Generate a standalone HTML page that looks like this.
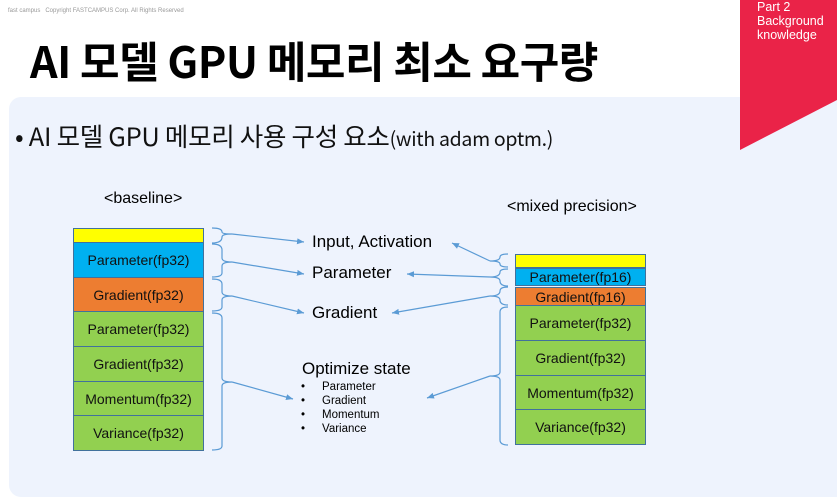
<!DOCTYPE html>
<html><head><meta charset="utf-8"><style>
body{margin:0;width:837px;height:479px;overflow:hidden;background:#fff;font-family:"Liberation Sans","Noto Sans CJK KR",sans-serif;position:relative}
.a{position:absolute;white-space:nowrap}
.k{font-family:"Noto Sans CJK KR",sans-serif;line-height:1}
.box{position:absolute;box-sizing:border-box;border:1px solid #41719c;text-align:center;font-size:14px;color:#111;display:flex;align-items:center;justify-content:center}
.y{background:#ffff00}.b{background:#00b0f0}.o{background:#ed7d31}.g{background:#92d050}
</style></head><body>
<div class="a" style="left:9px;top:97px;width:840px;height:400px;background:#eef3fd;border-radius:12px"></div>
<svg class="a" style="left:0;top:0" width="837" height="479">
<polygon points="740,0 837,0 837,100 740,150" fill="#ea2348"/>
</svg>
<div class="a" style="left:757px;top:0px;color:#fff;font-size:12.5px;line-height:14px">Part 2<br>Background<br>knowledge</div>
<div class="a" style="left:8px;top:8px;font-size:6px;color:#999">fast campus &nbsp; Copyright FASTCAMPUS Corp. All Rights Reserved</div>
<div class="a k" style="left:30px;top:39px;font-size:43px;font-weight:bold;color:#000;letter-spacing:-0.5px">AI 모델 GPU 메모리 최소 요구량</div>
<div class="a k" style="left:15px;top:123px;font-size:25.5px;color:#111;letter-spacing:-0.3px">• AI 모델 GPU 메모리 사용 구성 요소<span style="font-size:19.5px">(with adam optm.)</span></div>
<div class="a" style="left:104px;top:190px;font-size:16px">&lt;baseline&gt;</div>
<div class="a" style="left:507px;top:198px;font-size:16px">&lt;mixed precision&gt;</div>

<div class="box y" style="left:73px;top:228px;width:131px;height:15px"></div>
<div class="box b" style="left:73px;top:242px;width:131px;height:36px">Parameter(fp32)</div>
<div class="box o" style="left:73px;top:277px;width:131px;height:35px">Gradient(fp32)</div>
<div class="box g" style="left:73px;top:311px;width:131px;height:36px">Parameter(fp32)</div>
<div class="box g" style="left:73px;top:346px;width:131px;height:36px">Gradient(fp32)</div>
<div class="box g" style="left:73px;top:381px;width:131px;height:35px">Momentum(fp32)</div>
<div class="box g" style="left:73px;top:415px;width:131px;height:36px">Variance(fp32)</div>

<div class="box y" style="left:515px;top:254px;width:131px;height:14px"></div>
<div class="box b" style="left:515px;top:268px;width:131px;height:18px">Parameter(fp16)</div>
<div class="box o" style="left:515px;top:287px;width:131px;height:19px">Gradient(fp16)</div>
<div class="box g" style="left:515px;top:305px;width:131px;height:36px">Parameter(fp32)</div>
<div class="box g" style="left:515px;top:340px;width:131px;height:36px">Gradient(fp32)</div>
<div class="box g" style="left:515px;top:375px;width:131px;height:35px">Momentum(fp32)</div>
<div class="box g" style="left:515px;top:409px;width:131px;height:36px">Variance(fp32)</div>

<div class="a" style="left:312px;top:232px;font-size:17px">Input, Activation</div>
<div class="a" style="left:312px;top:263px;font-size:17px">Parameter</div>
<div class="a" style="left:312px;top:303px;font-size:17px">Gradient</div>
<div class="a" style="left:302px;top:359px;font-size:17px">Optimize state</div>
<div class="a" style="left:301px;top:380px;font-size:11.5px;line-height:14px">•<br>•<br>•<br>•</div>
<div class="a" style="left:322px;top:380px;font-size:11.5px;line-height:14px">Parameter<br>Gradient<br>Momentum<br>Variance</div>

<svg class="a" style="left:0;top:0" width="837" height="479">
<defs><marker id="m" markerWidth="8" markerHeight="8" refX="7" refY="4" orient="auto" markerUnits="userSpaceOnUse"><path d="M0,1 L7,4 L0,7 z" fill="#5b9bd5"/></marker></defs>
<g fill="none" stroke="#5b9bd5" stroke-width="1.2">
<path d="M212,228 Q222,228 222,232 Q222,234 232,234 Q222,234 222,237 Q222,243 212,243"/>
<path d="M212,244 Q222,244 222,250 L222,258 Q222,262 232,262 Q222,262 222,266 L222,273 Q222,277 212,277"/>
<path d="M212,279 Q222,279 222,284 L222,292 Q222,296 232,296 Q222,296 222,300 L222,307 Q222,311 212,311"/>
<path d="M212,313 Q222,313 222,318 L222,378 Q222,382 232,382 Q222,382 222,386 L222,446 Q222,450 212,450"/>
<path d="M508,254 Q500,254 500,257 Q500,261 490,261 Q500,261 500,264 Q500,267 508,267"/>
<path d="M508,269 Q500,269 500,272 Q500,277 490,277 Q500,277 500,281 Q500,286 508,286"/>
<path d="M508,287 Q500,287 500,291 Q500,296 490,296 Q500,296 500,300 Q500,305 508,305"/>
<path d="M508,307 Q500,307 500,312 L500,372 Q500,376 490,376 Q500,376 500,380 L500,440 Q500,445 508,445"/>
<line x1="232" y1="234" x2="304" y2="242" marker-end="url(#m)"/>
<line x1="232" y1="262" x2="304" y2="274" marker-end="url(#m)"/>
<line x1="232" y1="296" x2="304" y2="313" marker-end="url(#m)"/>
<line x1="232" y1="382" x2="293" y2="399" marker-end="url(#m)"/>
<line x1="490" y1="261" x2="452" y2="243" marker-end="url(#m)"/>
<line x1="490" y1="277" x2="407" y2="274" marker-end="url(#m)"/>
<line x1="490" y1="296" x2="392" y2="313" marker-end="url(#m)"/>
<line x1="490" y1="376" x2="427" y2="398" marker-end="url(#m)"/>
</g></svg>
</body></html>
